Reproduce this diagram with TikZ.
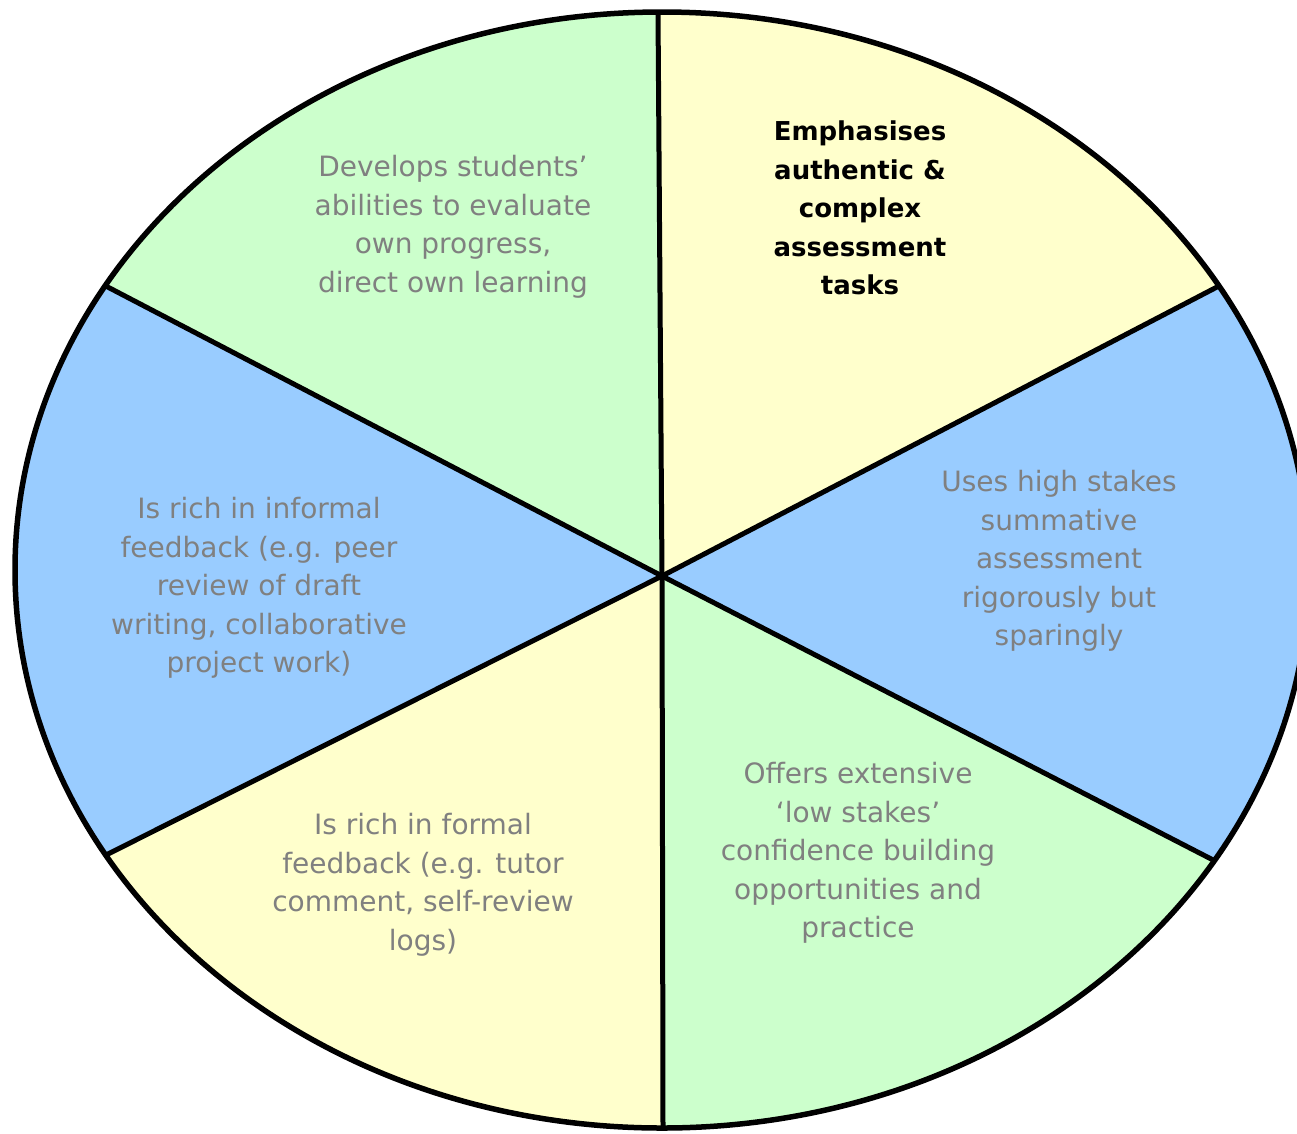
\documentclass[tikz,border=0pt]{standalone}
\usepackage{fontspec}
\setmainfont{DejaVu Sans}
\usetikzlibrary{calc}
\definecolor{segGreen}{HTML}{CCFFCC}
\definecolor{segYellow}{HTML}{FFFFCC}
\definecolor{segBlue}{HTML}{99CCFF}
\definecolor{txtGrey}{HTML}{808080}
\begin{document}
\begin{tikzpicture}[x=1pt,y=-1pt,
  lbl/.style={align=center,text=txtGrey,font=\fontsize{28}{38.5}\selectfont},
  lblbold/.style={align=center,text=black,font=\fontsize{26}{38.5}\selectfont\bfseries},
  spoke/.style={line width=5pt,line cap=round},
  rim/.style={line width=5.5pt}]
\useasboundingbox (0,0) rectangle (1297,1133);
\clip (0,0) rectangle (1297,1133);
% key points
\coordinate (hub) at (662,576);
\coordinate (vT) at (658,12);
\coordinate (vUR) at (1217,287);
\coordinate (vLR) at (1217,862);
\coordinate (vB) at (663,1128);
\coordinate (vLL) at (100,858);
\coordinate (vUL) at (100,283);
% sectors
\begin{scope}
\clip (662,570) ellipse [x radius=647, y radius=558];
\fill[segYellow] (hub) -- ($(hub)!3!(vT)$) -- (1500,-600) -- ($(hub)!3!(vUR)$) -- cycle;
\fill[segBlue] (hub) -- ($(hub)!3!(vUR)$) -- (1600,576) -- ($(hub)!3!(vLR)$) -- cycle;
\fill[segGreen] (hub) -- ($(hub)!3!(vLR)$) -- (1500,1800) -- ($(hub)!3!(vB)$) -- cycle;
\fill[segYellow] (hub) -- ($(hub)!3!(vB)$) -- (-300,1800) -- ($(hub)!3!(vLL)$) -- cycle;
\fill[segBlue] (hub) -- ($(hub)!3!(vLL)$) -- (-400,576) -- ($(hub)!3!(vUL)$) -- cycle;
\fill[segGreen] (hub) -- ($(hub)!3!(vUL)$) -- (-300,-600) -- ($(hub)!3!(vT)$) -- cycle;
\draw[spoke] (hub) -- (vT);
\draw[spoke] (hub) -- (vUR);
\draw[spoke] (hub) -- (vLR);
\draw[spoke] (hub) -- (vB);
\draw[spoke] (hub) -- (vLL);
\draw[spoke] (hub) -- (vUL);
\end{scope}
\draw[rim] (662,570) ellipse [x radius=647, y radius=558];
% labels
\node[lbl] (tUL) at (453,227) {Develops students’\\abilities to evaluate\\own progress,\\direct own learning};
\node[lblbold] (tUR) at (860,208) {Emphasises\\authentic \&\\complex\\assessment\\tasks};
\node[lbl] (tR) at (1059,561) {Uses high stakes\\summative\\assessment\\rigorously but\\sparingly};
\node[lbl] (tLR) at (858,853) {Offers extensive\\‘low stakes’\\confidence building\\opportunities and\\practice};
\node[lbl] (tLL) at (423,885) {Is rich in formal\\feedback (e.g. tutor\\comment, self-review\\logs)};
\node[lbl] (tL) at (259,588) {Is rich in informal\\feedback (e.g. peer\\review of draft\\writing, collaborative\\project work)};
\end{tikzpicture}
\end{document}
